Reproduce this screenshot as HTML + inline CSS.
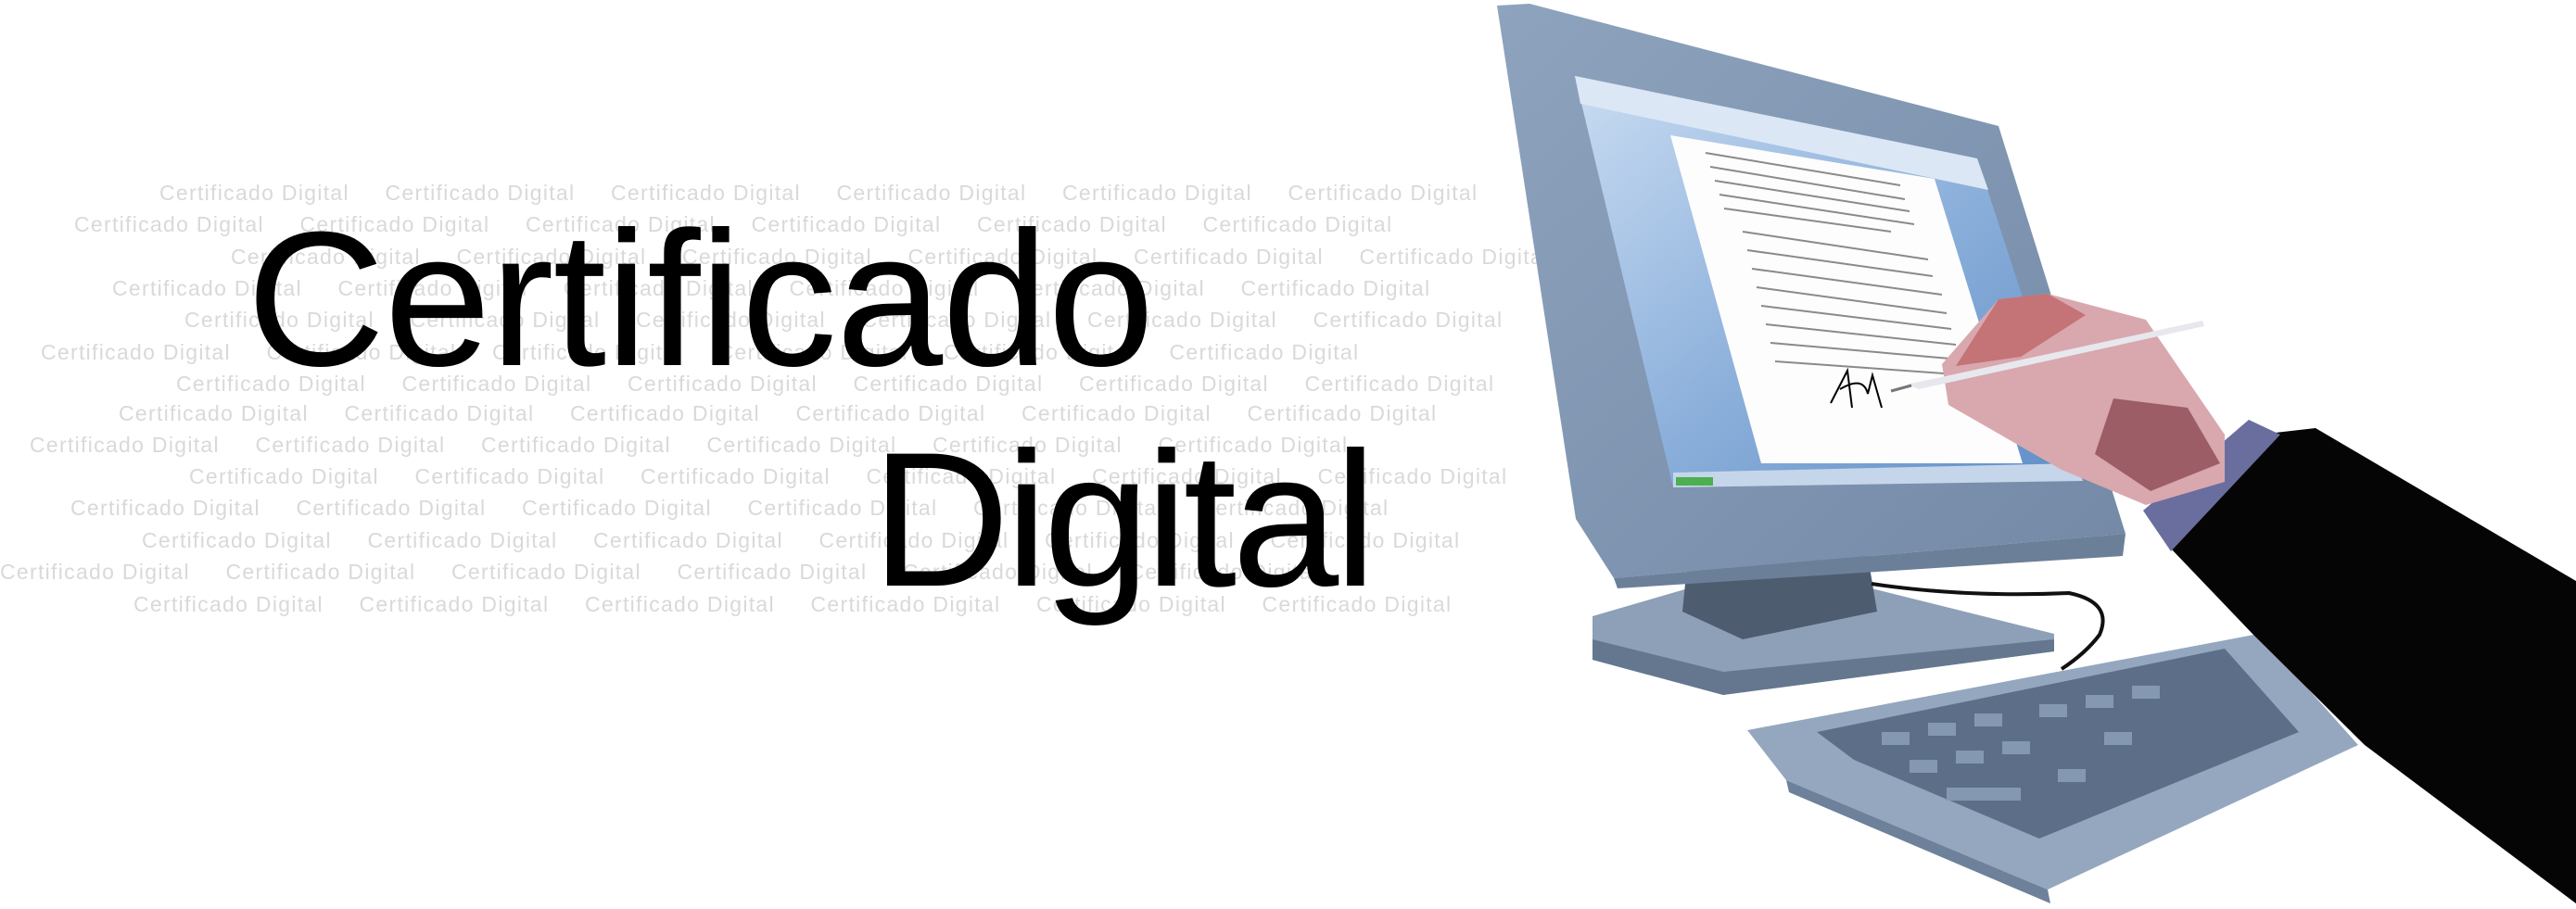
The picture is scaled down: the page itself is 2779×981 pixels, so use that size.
<!DOCTYPE html>
<html><head><meta charset="utf-8"><style>
html,body{margin:0;padding:0;background:#fff;}
body{width:2779px;height:981px;position:relative;overflow:hidden;font-family:"Liberation Sans",sans-serif;}
.wm{position:absolute;white-space:nowrap;font-size:23px;line-height:26px;color:#d9d9d9;letter-spacing:1.3px;}
.wm span{display:inline-block;width:243.5px;}
.big{position:absolute;font-size:207px;line-height:1;color:#000;white-space:nowrap;}
svg{position:absolute;left:0;top:0;}
</style></head><body>
<div class="wm" style="left:172px;top:195px"><span>Certificado Digital</span><span>Certificado Digital</span><span>Certificado Digital</span><span>Certificado Digital</span><span>Certificado Digital</span><span>Certificado Digital</span></div>
<div class="wm" style="left:80px;top:229px"><span>Certificado Digital</span><span>Certificado Digital</span><span>Certificado Digital</span><span>Certificado Digital</span><span>Certificado Digital</span><span>Certificado Digital</span></div>
<div class="wm" style="left:249px;top:264px"><span>Certificado Digital</span><span>Certificado Digital</span><span>Certificado Digital</span><span>Certificado Digital</span><span>Certificado Digital</span><span>Certificado Digital</span></div>
<div class="wm" style="left:121px;top:298px"><span>Certificado Digital</span><span>Certificado Digital</span><span>Certificado Digital</span><span>Certificado Digital</span><span>Certificado Digital</span><span>Certificado Digital</span></div>
<div class="wm" style="left:199px;top:332px"><span>Certificado Digital</span><span>Certificado Digital</span><span>Certificado Digital</span><span>Certificado Digital</span><span>Certificado Digital</span><span>Certificado Digital</span></div>
<div class="wm" style="left:44px;top:367px"><span>Certificado Digital</span><span>Certificado Digital</span><span>Certificado Digital</span><span>Certificado Digital</span><span>Certificado Digital</span><span>Certificado Digital</span></div>
<div class="wm" style="left:190px;top:401px"><span>Certificado Digital</span><span>Certificado Digital</span><span>Certificado Digital</span><span>Certificado Digital</span><span>Certificado Digital</span><span>Certificado Digital</span></div>
<div class="wm" style="left:128px;top:433px"><span>Certificado Digital</span><span>Certificado Digital</span><span>Certificado Digital</span><span>Certificado Digital</span><span>Certificado Digital</span><span>Certificado Digital</span></div>
<div class="wm" style="left:32px;top:467px"><span>Certificado Digital</span><span>Certificado Digital</span><span>Certificado Digital</span><span>Certificado Digital</span><span>Certificado Digital</span><span>Certificado Digital</span></div>
<div class="wm" style="left:204px;top:501px"><span>Certificado Digital</span><span>Certificado Digital</span><span>Certificado Digital</span><span>Certificado Digital</span><span>Certificado Digital</span><span>Certificado Digital</span></div>
<div class="wm" style="left:76px;top:535px"><span>Certificado Digital</span><span>Certificado Digital</span><span>Certificado Digital</span><span>Certificado Digital</span><span>Certificado Digital</span><span>Certificado Digital</span></div>
<div class="wm" style="left:153px;top:570px"><span>Certificado Digital</span><span>Certificado Digital</span><span>Certificado Digital</span><span>Certificado Digital</span><span>Certificado Digital</span><span>Certificado Digital</span></div>
<div class="wm" style="left:0px;top:604px"><span>Certificado Digital</span><span>Certificado Digital</span><span>Certificado Digital</span><span>Certificado Digital</span><span>Certificado Digital</span><span>Certificado Digital</span></div>
<div class="wm" style="left:144px;top:639px"><span>Certificado Digital</span><span>Certificado Digital</span><span>Certificado Digital</span><span>Certificado Digital</span><span>Certificado Digital</span><span>Certificado Digital</span></div>

<div class="big" style="left:266px;top:219px;letter-spacing:-1px">Certificado</div>
<div class="big" style="left:940px;top:457px;letter-spacing:-5px">Digital</div>

<svg width="2779" height="981" viewBox="0 0 2779 981">
 <defs>
  <linearGradient id="scr" x1="0" y1="0" x2="1" y2="1">
   <stop offset="0" stop-color="#c9dcf2"/><stop offset="0.5" stop-color="#8fb2dc"/><stop offset="1" stop-color="#5f8dc6"/>
  </linearGradient>
  <linearGradient id="bez" x1="0" y1="0" x2="1" y2="1">
   <stop offset="0" stop-color="#8ea3bd"/><stop offset="1" stop-color="#7389a6"/>
  </linearGradient>
 </defs>
 <!-- stand base -->
 <polygon points="1718,665 1828,633 2011,633 2216,684 2216,703 1859,750 1718,712" fill="#8da0b8"/>
 <polygon points="1718,690 1859,725 2216,690 2216,703 1859,750 1718,712" fill="#64778f"/>
 <polygon points="1821,600 2015,600 2025,660 1880,690 1815,660" fill="#4e5c70"/>
 <!-- monitor -->
 <polygon points="1615,6 1650,4 2156,136 2293,576 1741,624 1700,560" fill="url(#bez)"/>
 <polygon points="1741,624 2293,576 2290,600 1745,635" fill="#6c7f99"/>
 <polygon points="1699,82 2133,171 2247,519 1805,526" fill="url(#scr)"/>
 <polygon points="1699,82 2133,171 2145,205 1705,112" fill="#dbe7f5"/>
 <polygon points="1805,510 2240,500 2247,519 1805,526" fill="#c6d6ea"/>
 <rect x="1808" y="515" width="40" height="9" fill="#4caf50"/>
 <polygon points="1802,146 2087,193 2182,500 1900,500" fill="#fdfdfd"/>
 <g stroke="#8a8a8a" stroke-width="2">
  <line x1="1840" y1="165" x2="2050" y2="200"/><line x1="1845" y1="180" x2="2055" y2="215"/>
  <line x1="1850" y1="195" x2="2060" y2="228"/><line x1="1855" y1="210" x2="2065" y2="242"/>
  <line x1="1860" y1="225" x2="2040" y2="250"/><line x1="1880" y1="250" x2="2080" y2="280"/>
  <line x1="1885" y1="270" x2="2085" y2="298"/><line x1="1890" y1="290" x2="2095" y2="318"/>
  <line x1="1895" y1="310" x2="2100" y2="338"/><line x1="1900" y1="330" x2="2105" y2="355"/>
  <line x1="1905" y1="350" x2="2110" y2="372"/><line x1="1910" y1="370" x2="2115" y2="388"/>
  <line x1="1915" y1="390" x2="2125" y2="405"/>
 </g>
 <path d="M1975,435 L1993,400 L1998,440 M1985,420 Q2010,405 2015,425 L2020,405 L2030,440" stroke="#000" stroke-width="2" fill="none"/>
 <!-- cable -->
 <path d="M2019,630 Q2120,645 2232,640 Q2280,650 2265,685 Q2250,705 2224,722" stroke="#111" stroke-width="4" fill="none"/>
 <!-- keyboard -->
 <polygon points="1885,788 2437,684 2544,804 2209,960 1927,842" fill="#94a7bf"/>
 <polygon points="1960,790 2400,700 2480,790 2200,905 2000,820" fill="#5d6f88"/>
 <g fill="#8598b2">
  <rect x="2030" y="790" width="30" height="14"/><rect x="2080" y="780" width="30" height="14"/><rect x="2130" y="770" width="30" height="14"/>
  <rect x="2060" y="820" width="30" height="14"/><rect x="2110" y="810" width="30" height="14"/><rect x="2160" y="800" width="30" height="14"/>
  <rect x="2200" y="760" width="30" height="14"/><rect x="2250" y="750" width="30" height="14"/><rect x="2300" y="740" width="30" height="14"/>
  <rect x="2100" y="850" width="80" height="14"/><rect x="2220" y="830" width="30" height="14"/><rect x="2270" y="790" width="30" height="14"/>
 </g>
 <polygon points="1927,842 2209,960 2212,975 1930,855" fill="#6e819b"/>
 <!-- sleeve -->
 <polygon points="2437,469 2498,462 2779,627 2779,975 2551,804 2430,684 2342,592" fill="#050505"/>
 <polygon points="2312,551 2426,453 2460,469 2342,595" fill="#6a6e9e"/>
 <!-- hand -->
 <polygon points="2156,323 2209,317 2315,345 2400,469 2400,520 2315,545 2224,507 2102,437 2095,393" fill="#d8a8ae"/>
 <polygon points="2156,323 2209,317 2250,340 2180,385 2110,395" fill="#c47377"/>
 <polygon points="2280,430 2360,440 2395,500 2320,530 2260,490" fill="#9c5d66"/>
 <!-- pen -->
 <polygon points="2057,415 2376,346 2378,352 2070,420" fill="#e7e8ee"/>
 <line x1="2040" y1="422" x2="2062" y2="416" stroke="#777" stroke-width="3"/>
</svg>
</body></html>
